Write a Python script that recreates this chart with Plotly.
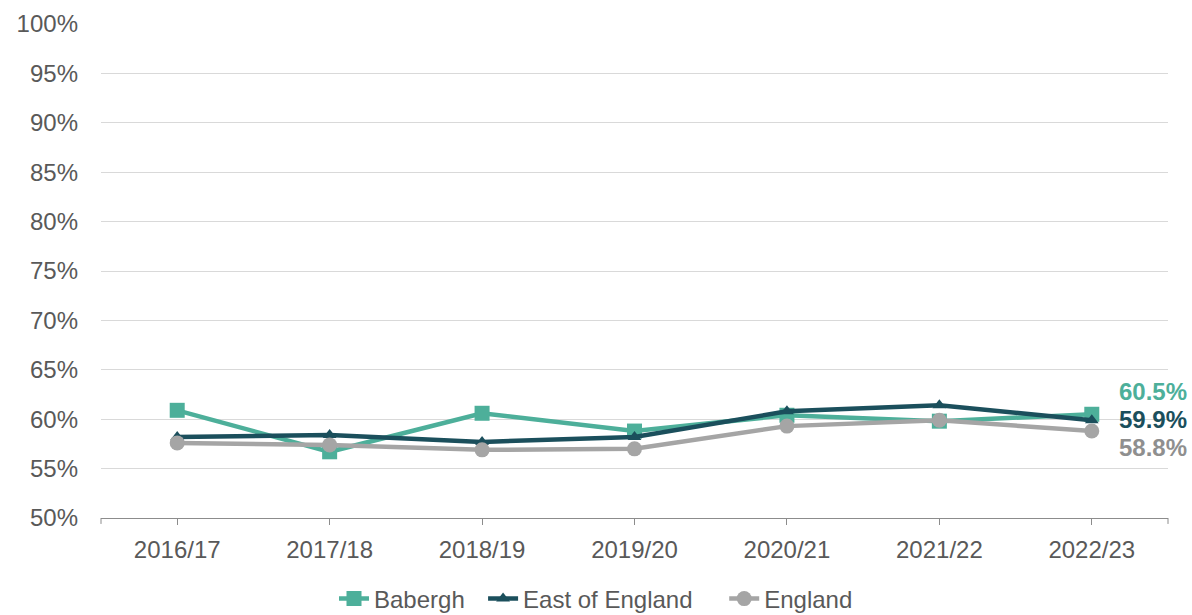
import plotly.graph_objects as go

years = ["2016/17", "2017/18", "2018/19", "2019/20", "2020/21", "2021/22", "2022/23"]
babergh = [60.9, 56.7, 60.6, 58.8, 60.4, 59.8, 60.5]
east_of_england = [58.2, 58.4, 57.7, 58.2, 60.8, 61.4, 59.9]
england = [57.6, 57.4, 56.9, 57.0, 59.3, 59.9, 58.8]
y_ticks = list(range(50, 101, 5))

C_BAB = "#4daf9a"
C_EOE = "#1b4f5c"
C_ENG = "#a5a5a5"
FONT = "Liberation Sans, Arial, sans-serif"
NBSP = "\u00a0"

x = list(range(len(years)))

fig = go.Figure()
# name, values, colour, marker symbol, marker size, legend padding
series = [
    ("Babergh", babergh, C_BAB, "square", 15, 2),
    ("East of England", east_of_england, C_EOE, "triangle-up", 12, 4),
    ("England", england, C_ENG, "circle", 15, 0),
]
for name, vals, col, sym, sz, pad in series:
    fig.add_trace(go.Scatter(
        x=x, y=vals, name=name + NBSP * pad, mode="lines+markers",
        line=dict(color=col, width=4.5),
        marker=dict(symbol=sym, size=sz, color=col),
    ))

# end-of-line value labels
label_cols = [C_BAB, C_EOE, "#8f8f8f"]
shifts = [23, 1, -16]
for (name, vals, *_), col, ys in zip(series, label_cols, shifts):
    fig.add_annotation(
        x=1.0197, xref="paper", y=vals[-1], yref="y", yshift=ys,
        text=f"<b>{vals[-1]:.1f}%</b>", showarrow=False, xanchor="right",
        font=dict(family=FONT, size=24, color=col),
    )

# tick marks at the plot edges
for px in (0, 1):
    fig.add_shape(type="line", xref="paper", yref="paper", x0=px, x1=px,
                  y0=0, y1=-0.012, line=dict(color="#8c8c8c", width=1))

fig.update_layout(
    width=1192, height=615,
    margin=dict(l=101, r=24, t=24, b=97, autoexpand=False),
    plot_bgcolor="white", paper_bgcolor="white",
    font=dict(family=FONT, size=24, color="#595959"),
    showlegend=True,
    legend=dict(orientation="h", xref="container", x=0.5, xanchor="center",
                y=-0.164, yanchor="middle",
                font=dict(size=24, color="#595959"), traceorder="normal"),
    xaxis=dict(
        range=[-0.5, len(years) - 0.5],
        tickmode="array", tickvals=x, ticktext=years,
        showgrid=False, showline=True, linecolor="#8c8c8c", linewidth=1,
        ticks="outside", ticklen=6, tickcolor="#8c8c8c",
        zeroline=False, tickfont=dict(size=24), ticklabelstandoff=4,
    ),
    yaxis=dict(
        range=[50, 100], tickmode="array", tickvals=y_ticks,
        ticktext=[f"{v}%" for v in y_ticks],
        showgrid=True, gridcolor="#d9d9d9", gridwidth=1,
        zeroline=False, showline=False, ticks="", ticklabelstandoff=22,
        tickfont=dict(size=24),
    ),
)

fig.write_html("out.html")
